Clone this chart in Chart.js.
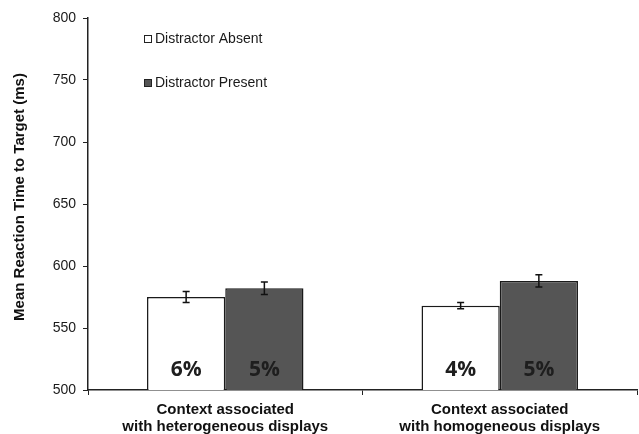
<!DOCTYPE html>
<html>
<head>
<meta charset="utf-8">
<script src="https://cdn.jsdelivr.net/npm/chart.js@4/dist/chart.umd.min.js"></script>
<style>
  html, body { margin: 0; padding: 0; background: #fff; }
  #wrap { width: 639px; height: 434px; }
</style>
</head>
<body>
<div id="wrap"><canvas id="c" width="639" height="434"></canvas></div>
<script>
// Conditions along the x axis
const categories = [
  ["Context associated", "with heterogeneous displays"],
  ["Context associated", "with homogeneous displays"]
];
// Mean reaction time (ms) per condition
const absentRT = [575, 568];
const presentRT = [582, 588];
// Standard error (ms)
const absentErr = [4.5, 2.5];
const presentErr = [5, 5];
// Error rates shown inside the bars
const absentPct = ["6%", "4%"];
const presentPct = ["5%", "5%"];
// Y axis range and step
const yMin = 500, yMax = 800, yStep = 50;
const seriesNames = ["Distractor Absent", "Distractor Present"];

const errors = [absentErr, presentErr];
const pctLabels = [absentPct, presentPct];

// Error bars and in-bar percentage labels
const barExtras = {
  id: 'barExtras',
  afterDatasetsDraw(chart) {
    const ctx = chart.ctx;
    const y = chart.scales.y;
    chart.data.datasets.forEach((ds, di) => {
      const meta = chart.getDatasetMeta(di);
      meta.data.forEach((bar, i) => {
        const v = ds.data[i];
        const e = errors[di][i];
        const x = bar.x;
        const yHi = y.getPixelForValue(v + e);
        const yLo = y.getPixelForValue(v - e);
        ctx.save();
        ctx.strokeStyle = '#111';
        ctx.lineWidth = 1.5;
        ctx.beginPath();
        ctx.moveTo(x, yHi); ctx.lineTo(x, yLo);
        ctx.moveTo(x - 3.5, yHi); ctx.lineTo(x + 3.5, yHi);
        ctx.moveTo(x - 3.5, yLo); ctx.lineTo(x + 3.5, yLo);
        ctx.stroke();
        // percentage label
        ctx.fillStyle = '#1e1e1e';
        ctx.font = 'bold 21px "Open Sans", "DejaVu Sans", sans-serif';
        ctx.textAlign = 'center';
        ctx.textBaseline = 'middle';
        ctx.fillText(pctLabels[di][i], x, y.getPixelForValue(yMin) - 20);
        ctx.restore();
      });
    });
  }
};

// Legend in the upper part of the plot, plus the rotated y title
const sideText = {
  id: 'sideText',
  afterDraw(chart) {
    const ctx = chart.ctx;
    const area = chart.chartArea;
    ctx.save();
    const fills = chart.data.datasets.map(d => d.backgroundColor);
    const rows = [area.top + 21, area.top + 65];
    rows.forEach((cy, k) => {
      const bx = area.left + 56;
      ctx.fillStyle = fills[k];
      ctx.fillRect(bx, cy - 4, 8, 8);
      ctx.strokeStyle = '#222';
      ctx.lineWidth = 1;
      ctx.strokeRect(bx + 0.5, cy - 3.5, 7, 7);
      ctx.fillStyle = '#1a1a1a';
      ctx.font = '14px "Liberation Sans", Arial, sans-serif';
      ctx.textAlign = 'left';
      ctx.textBaseline = 'middle';
      ctx.fillText(seriesNames[k], bx + 11, cy);
    });
    // y axis title
    ctx.translate(20, 197);
    ctx.rotate(-Math.PI / 2);
    ctx.fillStyle = '#111';
    ctx.font = 'bold 15px "Liberation Sans", Arial, sans-serif';
    ctx.textAlign = 'center';
    ctx.textBaseline = 'middle';
    ctx.fillText('Mean Reaction Time to Target (ms)', 0, 0);
    ctx.restore();
  }
};

new Chart(document.getElementById('c'), {
  type: 'bar',
  data: {
    labels: categories,
    datasets: [
      {
        label: seriesNames[0],
        data: absentRT,
        backgroundColor: '#ffffff',
        borderColor: '#1a1a1a',
        borderWidth: 1.5,
        borderSkipped: false,
        barPercentage: 1.0,
        categoryPercentage: 0.57
      },
      {
        label: seriesNames[1],
        data: presentRT,
        backgroundColor: '#555555',
        borderColor: '#1a1a1a',
        borderWidth: 1.5,
        borderSkipped: false,
        barPercentage: 1.0,
        categoryPercentage: 0.57
      }
    ]
  },
  options: {
    responsive: false,
    animation: false,
    devicePixelRatio: 1,
    layout: { padding: { top: 18, right: 2, left: 0, bottom: 0 } },
    plugins: { legend: { display: false }, tooltip: { enabled: false } },
    scales: {
      x: {
        grid: { offset: true, drawOnChartArea: false, drawTicks: true, tickLength: 5, color: '#222' },
        border: { display: true, color: '#222', width: 1.5 },
        ticks: {
          color: '#111',
          padding: 6,
          maxRotation: 0,
          font: { family: '"Liberation Sans", Arial, sans-serif', size: 15, weight: 'bold', lineHeight: 1.15 }
        },
        afterFit(s) { s.height = 44; }
      },
      y: {
        min: yMin,
        max: yMax,
        grid: { drawOnChartArea: false, drawTicks: true, tickLength: 5, color: '#222' },
        border: { display: true, color: '#222', width: 1.5 },
        ticks: {
          stepSize: yStep,
          color: '#1a1a1a',
          padding: 7,
          font: { family: '"Liberation Sans", Arial, sans-serif', size: 14 }
        },
        afterFit(s) { s.width = 88; }
      }
    }
  },
  plugins: [barExtras, sideText]
});
</script>
</body>
</html>
